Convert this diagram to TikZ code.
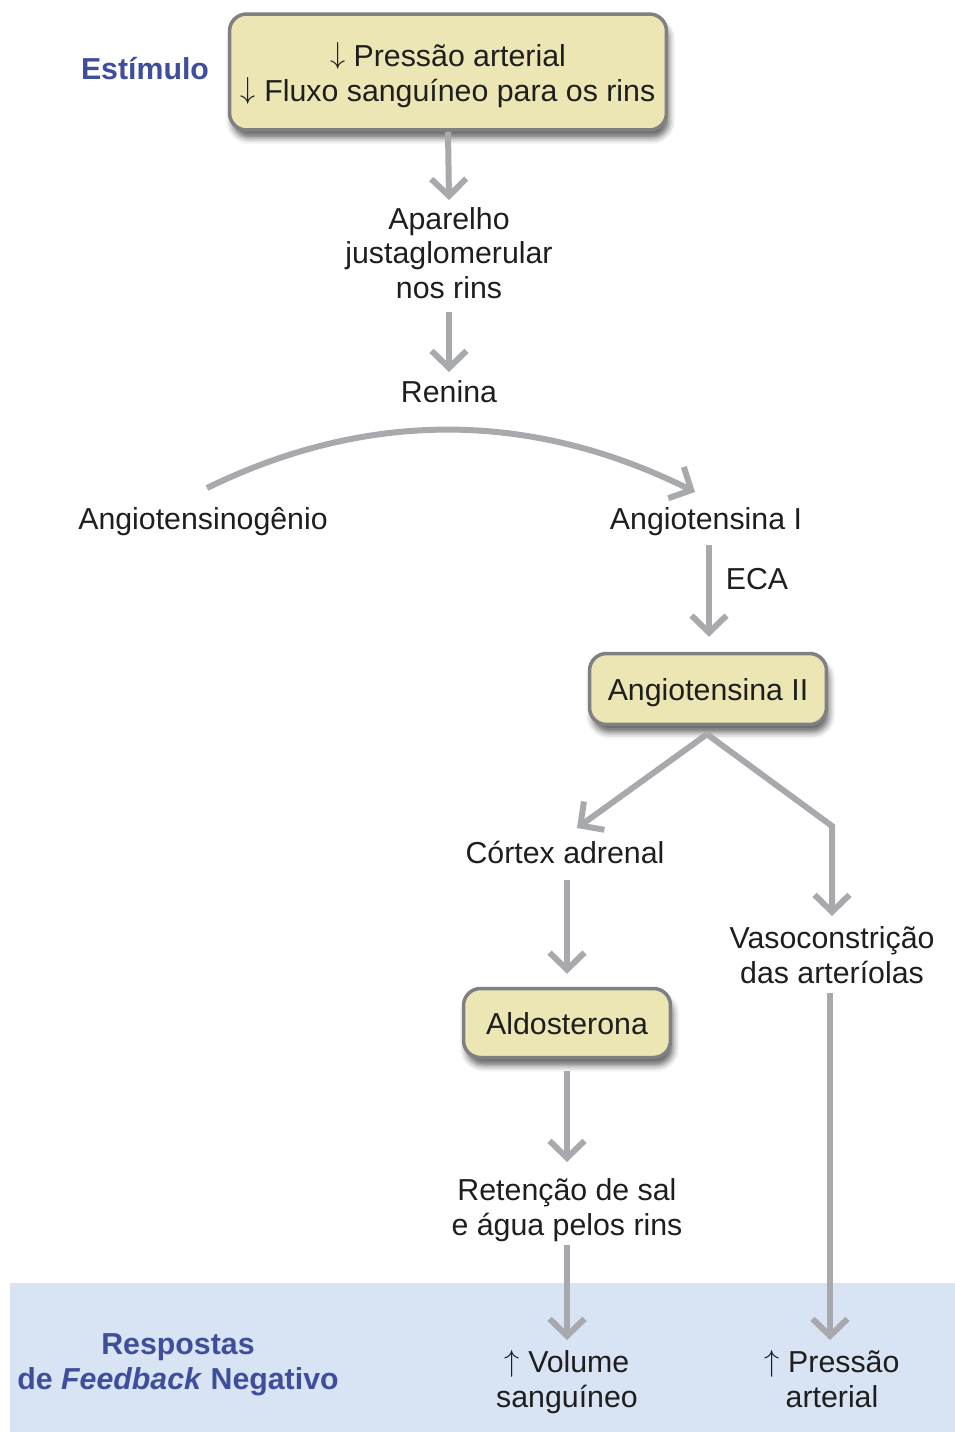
\documentclass[tikz,border=0pt]{standalone}
\usepackage{fontspec}
\setmainfont{Liberation Sans}
\usetikzlibrary{arrows.meta,calc,shadows.blur}
\definecolor{boxfill}{RGB}{236,230,181}
\definecolor{boxline}{RGB}{128,128,130}
\definecolor{arrowgray}{RGB}{168,169,173}
\definecolor{headblue}{RGB}{62,78,156}
\definecolor{bandblue}{RGB}{216,228,243}
\definecolor{ink}{RGB}{30,30,30}
\newcommand{\dn}{\raisebox{1.5pt}{$\downarrow$}}
\newcommand{\up}{\raisebox{0.5pt}{$\uparrow$}}
\newcommand{\topstrut}{\rule{0pt}{19.6pt}}

\begin{document}
\begin{tikzpicture}[x=0.02cm,y=-0.02cm,
  every node/.style={font=\fontsize{17.25}{19.9}\selectfont, text=ink},
  label/.style={align=center, inner sep=0pt,
    execute at begin node=\topstrut, execute at end node=\strut},
  heading/.style={label, text=headblue,
    font=\fontsize{17.25}{19.9}\selectfont\bfseries},
  keybox/.style={label, draw=boxline, line width=0.07cm, fill=boxfill,
    rounded corners=0.34cm,
    blur shadow={shadow xshift=1.5pt, shadow yshift=-4.5pt,
      shadow blur radius=3.5pt, shadow opacity=60}},
  flow/.style={draw=arrowgray, line width=0.12cm,
    -{Straight Barb[length=3.4mm,width=7mm]}},
]
\useasboundingbox (0,0) rectangle (955,1432);

% band of the feedback responses
\fill[bandblue] (10,1283) rectangle (955,1432);

% stimulus
\node[heading] (estim) at (145,68) {Estímulo};
\node[keybox, minimum width=8.74cm, minimum height=2.32cm] (stim) at (448,72)
  {\topstrut\dn\ Pressão arterial\\\dn\ Fluxo sanguíneo para os rins};

% renin chain
\node[label] (apar) at (449,252) {\topstrut Aparelho\\justaglomerular\\nos rins};
\node[label] (renina) at (449,391) {Renina};
\node[label] (agen) at (203,518) {Angiotensinogênio};
\node[label] (ang1) at (706,518) {Angiotensina I};
\node[label] (eca) at (757,578) {ECA};
\node[keybox, minimum width=4.74cm, minimum height=1.42cm] (ang2) at (708,689)
  {Angiotensina II};

% adrenal branch
\node[label] (cortex) at (565,852) {Córtex adrenal};
\node[keybox, minimum width=4.14cm, minimum height=1.38cm] (aldo) at (567,1023)
  {Aldosterona};
\node[label] (ret) at (567,1206) {\topstrut Retenção de sal\\e água pelos rins};
\node[label] (vol) at (567,1378) {\topstrut\up\ Volume\\sanguíneo};

% arteriolar branch
\node[label] (vaso) at (832,954) {\topstrut Vasoconstrição\\das arteríolas};
\node[label] (pres) at (832,1378) {\topstrut\up\ Pressão\\arterial};

% feedback heading
\node[heading] (resp) at (178,1360) {\topstrut Respostas\\de \textit{Feedback} Negativo};

% connectors
\draw[flow] (stim.south) -- ($(apar.center)+(0,-52)$);
\draw[flow] ($(apar.center)+(0,60)$) -- ($(renina.center)+(0,-19)$);
\draw[flow] ($(agen.center)+(4,-30)$) .. controls (369,409) and (532,411)
  .. ($(ang1.center)+(-11,-26)$);
\draw[flow] ($(ang1.center)+(3,27)$) -- ($(ang2.north)+(1,-15)$);
\draw[flow] ($(ang2.south)+(-1,8)$) -- ($(cortex.center)+(12,-24)$);
\draw[flow] ($(ang2.south)+(-1,8)$) -- ($(vaso.center)+(0,-128)$)
  -- ($(vaso.center)+(0,-38)$);
\draw[flow] ($(cortex.center)+(2,28)$) -- ($(aldo.north)+(0,-13)$);
\draw[flow] ($(aldo.south)+(0,12)$) -- ($(ret.center)+(0,-44)$);
\draw[flow] ($(ret.center)+(0,39)$) -- ($(vol.center)+(0,-38)$);
\draw[flow] ($(vaso.center)+(-2,39)$) -- ($(pres.center)+(-2,-38)$);
\end{tikzpicture}
\end{document}
